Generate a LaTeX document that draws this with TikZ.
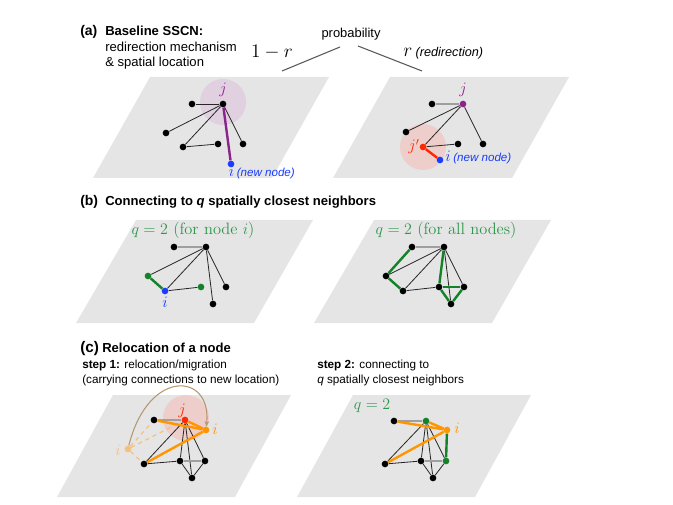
\documentclass[tikz,border=0pt]{standalone}
\usepackage{fontspec}
\newfontfamily\helv{Liberation Sans}
\usetikzlibrary{arrows.meta}

\definecolor{planegray}{RGB}{229,229,229}
\definecolor{sscnpurple}{RGB}{140,35,140}
\definecolor{purplehalo}{RGB}{224,208,224}
\definecolor{newblue}{RGB}{25,60,255}
\definecolor{jred}{RGB}{255,40,0}
\definecolor{redhalo}{RGB}{238,206,203}
\definecolor{qgreen}{RGB}{45,150,75}
\definecolor{linkgreen}{RGB}{20,130,40}
\definecolor{relorange}{RGB}{255,150,0}
\definecolor{oldorange}{RGB}{245,192,125}
\definecolor{arctan}{RGB}{182,152,112}

\tikzset{
  plane/.style={fill=planegray, draw=none},
  halo/.style={circle, inner sep=0pt, minimum size=34.5pt},
  dot/.style={circle, fill=black, inner sep=0pt, minimum size=5pt},
  link/.style={line width=0.6pt, black!85},
  weak/.style={line width=1.1pt, gray!75},
  strong/.style={line width=1.8pt},
  pointer/.style={line width=0.8pt, black!65},
  tag/.style={anchor=base west, inner sep=0pt, font=\helv\bfseries\fontsize{10.5}{12}\selectfont},
  head/.style={anchor=base west, inner sep=0pt, font=\helv\bfseries\fontsize{9.8}{11}\selectfont},
  txt/.style={anchor=base west, inner sep=0pt, font=\helv\fontsize{9.8}{11}\selectfont},
  steptxt/.style={anchor=base west, inner sep=0pt, font=\helv\fontsize{8.8}{10}\selectfont},
  mlabel/.style={anchor=base, inner sep=0pt, font=\fontsize{12}{14}\selectfont},
  qlabel/.style={anchor=base, inner sep=0pt, text=qgreen, font=\fontsize{12.3}{14}\selectfont},
}

\begin{document}
\begin{tikzpicture}[x=0.75pt, y=-0.75pt]
\useasboundingbox (0,0) rectangle (673,505);

% planes
\fill[plane] (150,77) -- (329,77) -- (272,178) -- (93,178) -- cycle;
\fill[plane] (390,77) -- (569,77) -- (512,178) -- (333,178) -- cycle;
\fill[plane] (136,220) -- (313,220) -- (254,323) -- (76,323) -- cycle;
\fill[plane] (374,220) -- (551,220) -- (492,323) -- (314,323) -- cycle;
\fill[plane] (113,395) -- (291,395) -- (235,497) -- (57,497) -- cycle;
\fill[plane] (353,395) -- (531,395) -- (475,497) -- (297,497) -- cycle;

% (a) headings
\node (tagA) [tag] at (80,36) {(a)};
\node (headA) [head] at (105,36) {Baseline SSCN:};
\node (subA) [txt] at (105,51.5) {redirection mechanism};
\node (subB) [txt] at (105,66.5) {\& spatial location};
\node (prob) [txt, anchor=base, font=\helv\fontsize{9.7}{11}\selectfont] at (351,38) {probability};
\node (noredir) [anchor=base, inner sep=0pt, font=\fontsize{14.4}{16}\selectfont] at (272,58) {$1-r$};
\node (redir) [anchor=base west, inner sep=0pt, font=\fontsize{14.4}{16}\selectfont] at (403,57)
  {$r$\hspace{2.5pt}{\helv\itshape\fontsize{9.5}{11}\selectfont(redirection)}};
\coordinate (ptL1) at (282,71);
\coordinate (ptL2) at (340,47);
\coordinate (ptR1) at (358,46);
\coordinate (ptR2) at (422,71);
\draw [pointer] (ptL1) -- (ptL2);
\draw [pointer] (ptR1) -- (ptR2);

% (a) left: attach to j
\node (haloJ) [halo, fill=purplehalo] at (223,102) {};
\node (aJ) [dot] at (223,104) {};
\node (aA) [dot] at (192,104) {};
\node (aB) [dot] at (166,133) {};
\node (aC) [dot] at (183,147) {};
\node (aD) [dot] at (218,144) {};
\node (aE) [dot] at (243,144) {};
\node (aI) [dot, fill=newblue] at (231,164) {};
\draw [link] (aJ) -- (aA);
\draw [link] (aJ) -- (aB);
\draw [link] (aJ) -- (aC);
\draw [link] (aC) -- (aD);
\draw [link] (aJ) -- (aE);
\draw [strong, sscnpurple] (aJ) -- (aI);
\node (aJlab) [mlabel, text=sscnpurple] at (223,94) {$j$};
\node (aIlab) [anchor=base west, inner sep=0pt, text=newblue, font=\fontsize{12}{14}\selectfont] at (228.5,177)
  {$i$\hspace{2pt}{\helv\itshape\fontsize{8.7}{10}\selectfont(new node)}};

% (a) right: redirection to a neighbour j'
\node (haloJp) [halo, fill=redhalo] at (423,147) {};
\node (rJ) [dot, fill=sscnpurple] at (463,104) {};
\node (rA) [dot] at (432,104) {};
\node (rB) [dot] at (406,132) {};
\node (rJp) [dot, fill=jred] at (423,147) {};
\node (rD) [dot] at (458,144) {};
\node (rE) [dot] at (483,144) {};
\node (rI) [dot, fill=newblue] at (440,160) {};
\draw [weak] (rJ) -- (rA);
\draw [link] (rJ) -- (rB);
\draw [link] (rJ) -- (rJp);
\draw [link] (rJ) -- (rE);
\draw [link] (rJp) -- (rD);
\draw [strong, jred] (rJp) -- (rI);
\node (rJlab) [mlabel, text=sscnpurple] at (463,94) {$j$};
\node (rJplab) [mlabel, text=jred] at (414,151) {$j'$};
\node (rIlab) [anchor=base west, inner sep=0pt, text=newblue, font=\fontsize{12}{14}\selectfont] at (445,162)
  {$i$\hspace{2pt}{\helv\itshape\fontsize{8.7}{10}\selectfont(new node)}};

% (b) headings
\node (tagB) [tag] at (80,206) {(b)};
\node (headB) [head] at (105,206) {Connecting to \textit{q} spatially closest neighbors};

% (b) left: q nearest for node i
\node (bA) [dot] at (174,247) {};
\node (bB) [dot] at (206,247) {};
\node (bC) [dot, fill=linkgreen] at (148,276) {};
\node (bI) [dot, fill=newblue] at (165,291) {};
\node (bD) [dot, fill=linkgreen] at (201,287) {};
\node (bE) [dot] at (226,287) {};
\node (bF) [dot] at (213,304) {};
\draw [weak] (bA) -- (bB);
\draw [link] (bB) -- (bC);
\draw [link] (bB) -- (bI);
\draw [link] (bB) -- (bE);
\draw [link] (bB) -- (bF);
\draw [link] (bI) -- (bD);
\draw [strong, linkgreen] (bI) -- (bC);
\node (bQlab) [qlabel] at (193,235) {$q=2$ (for node $i$)};
\node (bIlab) [mlabel, text=newblue] at (165,308) {$i$};

% (b) right: q nearest for all nodes
\node (nA) [dot] at (412,247) {};
\node (nB) [dot] at (444,247) {};
\node (nC) [dot] at (386,276) {};
\node (nD) [dot] at (403,291) {};
\node (nG) [dot] at (439,287) {};
\node (nH) [dot] at (464,287) {};
\node (nF) [dot] at (451,304) {};
\draw [weak] (nA) -- (nB);
\draw [link] (nB) -- (nC);
\draw [link] (nB) -- (nD);
\draw [link] (nB) -- (nH);
\draw [link] (nB) -- (nF);
\draw [link] (nD) -- (nG);
\draw [strong, linkgreen] (nA) -- (nC);
\draw [strong, linkgreen] (nC) -- (nD);
\draw [strong, linkgreen] (nB) -- (nG);
\draw [strong, linkgreen] (nG) -- (nH);
\draw [strong, linkgreen] (nG) -- (nF);
\draw [strong, linkgreen] (nH) -- (nF);
\node (nQlab) [qlabel] at (446,235) {$q=2$ (for all nodes)};

% (c) headings
\node (tagC) [tag, font=\helv\bfseries\fontsize{11.5}{13}\selectfont] at (80,352) {(c)};
\node (headC) [head] at (102,352) {Relocation of a node};
\node (stepA) [steptxt] at (82,368) {\textbf{step 1:} relocation/migration};
\node (stepAb) [steptxt] at (82,383) {(carrying connections to new location)};
\node (stepB) [steptxt] at (317,368) {\textbf{step 2:} connecting to};
\node (stepBb) [steptxt] at (317,383) {\textit{q} spatially closest neighbors};

% (c) left: migration of i
\node (haloC) [halo, fill=redhalo] at (186,418) {};
\node (mJ) [dot, fill=jred] at (185,420) {};
\node (mA) [dot] at (154,420) {};
\node (mI) [dot, fill=relorange] at (206,430) {};
\node (mOld) [dot, fill=oldorange] at (128,449) {};
\node (mC) [dot] at (144,464) {};
\node (mD) [dot] at (180,461) {};
\node (mE) [dot] at (205,461) {};
\node (mF) [dot] at (192,478) {};
\draw [weak] (mA) -- (mJ);
\draw [link] (mJ) -- (mC);
\draw [link] (mJ) -- (mD);
\draw [link] (mJ) -- (mE);
\draw [link] (mJ) -- (mF);
\draw [link] (mC) -- (mD);
\draw [weak, line width=0.8pt] (mD) -- (mE);
\draw [link] (mD) -- (mF);
\draw [link] (mE) -- (mF);
\draw [oldorange, line width=0.9pt, dashed] (mOld) -- (mA);
\draw [oldorange, line width=0.9pt, dashed] (mOld) -- (mJ);
\draw [oldorange, line width=0.9pt, dashed] (mOld) -- (mC);
\draw [strong, relorange] (mA) -- (mI);
\draw [strong, relorange] (mJ) -- (mI);
\draw [strong, relorange] (mC) -- (mI);
\draw [arctan, line width=0.8pt, -{Stealth[length=4pt, width=3.5pt]}]
  (mOld) .. controls (148,368) and (212,372) .. (mI);
\node (mJlab) [mlabel, text=jred] at (182,414) {$j$};
\node (mIlab) [mlabel, text=relorange] at (215,434) {$i$};
\node (mOldlab) [mlabel, text=oldorange] at (118,455) {$i$};

% (c) right: new links of i
\node (sA) [dot] at (394,421) {};
\node (sJ) [dot, fill=linkgreen] at (426,421) {};
\node (sI) [dot, fill=relorange] at (447,430) {};
\node (sC) [dot] at (385,464) {};
\node (sD) [dot] at (421,461) {};
\node (sE) [dot, fill=linkgreen] at (446,461) {};
\node (sF) [dot] at (433,478) {};
\draw [weak] (sA) -- (sJ);
\draw [link] (sJ) -- (sC);
\draw [link] (sJ) -- (sD);
\draw [link] (sJ) -- (sE);
\draw [link] (sJ) -- (sF);
\draw [link] (sC) -- (sD);
\draw [weak, line width=0.8pt] (sD) -- (sE);
\draw [link] (sD) -- (sF);
\draw [link] (sE) -- (sF);
\draw [strong, relorange] (sA) -- (sI);
\draw [strong, relorange] (sJ) -- (sI);
\draw [strong, relorange] (sC) -- (sI);
\draw [strong, linkgreen] (sI) -- (sE);
\node (sQlab) [qlabel] at (372,409) {$q=2$};
\node (sIlab) [mlabel, text=relorange] at (457,433) {$i$};
\end{tikzpicture}
\end{document}
